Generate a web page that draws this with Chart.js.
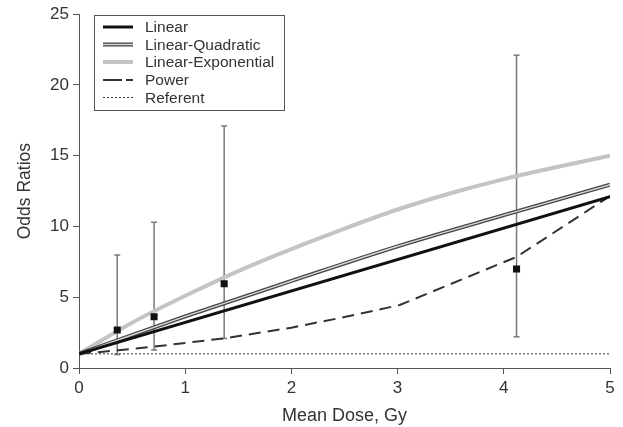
<!DOCTYPE html>
<html>
<head>
<meta charset="utf-8">
<script src="https://cdn.jsdelivr.net/npm/chart.js@4/dist/chart.umd.min.js"></script>
<style>
html,body{margin:0;padding:0;background:#fff;}
#wrap{width:623px;height:427px;}
</style>
</head>
<body>
<div id="wrap"><canvas id="c" width="623" height="427"></canvas></div>
<script>
// ---- data ----
const xTicks = [0, 1, 2, 3, 4, 5];
const yTicks = [0, 5, 10, 15, 20, 25];

const linearDose = [0, 5];
const linearOR   = [1, 12.1];

const lqDose = [0, 1, 2, 3, 4, 5];
const lqOR   = [1, 3.65, 6.15, 8.6, 10.8, 12.95];

const leDose = [0, 0.5, 1, 1.5, 2, 2.5, 3, 3.5, 4, 4.5, 5];
const leOR   = [1, 3.2, 5.1, 6.85, 8.4, 9.85, 11.2, 12.35, 13.35, 14.2, 15.0];

const powerDose = [0, 0.37, 0.7, 1.37, 2, 2.5, 3.02, 4.12, 5];
const powerOR   = [1, 1.25, 1.5, 2.1, 2.85, 3.6, 4.45, 7.85, 12.15];

const refDose = [0, 5];
const refOR   = [1, 1];

const obsDose  = [0.36, 0.707, 1.367, 4.12];
const obsOR    = [2.68, 3.62, 5.95, 6.99];
const obsLower = [0.96, 1.27, 2.09, 2.21];
const obsUpper = [7.98, 10.3, 17.1, 22.1];

const legendLabels = ['Linear', 'Linear-Quadratic', 'Linear-Exponential', 'Power', 'Referent'];

// ---- helpers ----
const pts = (xs, ys) => xs.map((x, i) => ({x: x, y: ys[i]}));
const FONT = "'Liberation Sans', Arial, Helvetica, sans-serif";
const AXIS = '#555';
const TEXT = '#333';

const errorBars = {
  id: 'errorBars',
  beforeDatasetsDraw(chart) {
    const {ctx, scales: {x, y}} = chart;
    ctx.save();
    ctx.strokeStyle = '#7a7a7a';
    ctx.lineWidth = 1.5;
    obsDose.forEach((d, i) => {
      const px = x.getPixelForValue(d);
      const y0 = y.getPixelForValue(obsLower[i]);
      const y1 = y.getPixelForValue(obsUpper[i]);
      ctx.beginPath();
      ctx.moveTo(px, y0); ctx.lineTo(px, y1);
      ctx.moveTo(px - 3, y0); ctx.lineTo(px + 3, y0);
      ctx.moveTo(px - 3, y1); ctx.lineTo(px + 3, y1);
      ctx.stroke();
    });
    ctx.restore();
  }
};

const boxLegend = {
  id: 'boxLegend',
  afterDraw(chart) {
    const ctx = chart.ctx;
    ctx.save();
    ctx.strokeStyle = AXIS;
    ctx.lineWidth = 1;
    ctx.strokeRect(94.5, 15.5, 190, 95);
    const rows = [27, 44.5, 62, 80, 97.5];
    const x0 = 103, x1 = 133;
    const line = (y, color, w, dash) => {
      ctx.beginPath();
      ctx.setLineDash(dash || []);
      ctx.strokeStyle = color; ctx.lineWidth = w;
      ctx.moveTo(x0, y); ctx.lineTo(x1, y); ctx.stroke();
      ctx.setLineDash([]);
    };
    line(rows[0], '#111', 3);
    line(rows[1], '#444', 4); line(rows[1], '#d8d8d8', 1.4);
    line(rows[2], '#c4c4c4', 4);
    ctx.beginPath(); ctx.strokeStyle = '#333'; ctx.lineWidth = 2;
    ctx.moveTo(103, rows[3]); ctx.lineTo(122, rows[3]);
    ctx.moveTo(126, rows[3]); ctx.lineTo(133, rows[3]); ctx.stroke();
    line(rows[4], '#333', 1, [2, 2]);
    ctx.fillStyle = TEXT;
    ctx.font = '15.5px ' + FONT;
    ctx.textBaseline = 'middle';
    ctx.textAlign = 'left';
    legendLabels.forEach((t, i) => ctx.fillText(t, 145, rows[i] + 1));
    ctx.restore();
  }
};

const lineDs = (label, xs, ys, color, width, dash, smooth) => ({
  label, data: pts(xs, ys), showLine: true, pointRadius: 0, pointHoverRadius: 0,
  borderColor: color, borderWidth: width, borderDash: dash || [], fill: false,
  tension: smooth ? 0.4 : 0, cubicInterpolationMode: smooth ? 'monotone' : 'default',
  borderCapStyle: 'butt'
});

new Chart(document.getElementById('c'), {
  type: 'scatter',
  data: {
    datasets: [
      { label: 'Observed', data: pts(obsDose, obsOR), pointStyle: 'rect', pointRadius: 5,
        backgroundColor: '#111', borderColor: '#111', borderWidth: 0, showLine: false },
      lineDs('Linear', linearDose, linearOR, '#111', 3),
      lineDs('LQ-inner', lqDose, lqOR, '#d8d8d8', 1.4, null, true),
      lineDs('Linear-Quadratic', lqDose, lqOR, '#444', 4, null, true),
      lineDs('Power', powerDose, powerOR, '#333', 2, [12, 7]),
      lineDs('Linear-Exponential', leDose, leOR, '#c4c4c4', 4, null, true),
      lineDs('Referent', refDose, refOR, '#333', 1, [2, 2])
    ]
  },
  options: {
    responsive: false,
    animation: false,
    events: [],
    layout: { padding: { top: 14, right: 13, left: 0, bottom: 0 } },
    plugins: { legend: { display: false }, tooltip: { enabled: false } },
    scales: {
      x: {
        type: 'linear', min: 0, max: 5,
        afterBuildTicks: s => { s.ticks = xTicks.map(v => ({value: v})); },
        afterFit: s => { s.height = 59; },
        ticks: { color: TEXT, font: { family: FONT, size: 17 }, padding: 4 },
        grid: { drawOnChartArea: false, drawTicks: true, tickLength: 6, color: AXIS, lineWidth: 1 },
        border: { display: true, color: AXIS, width: 1 },
        title: { display: true, text: 'Mean Dose, Gy', color: TEXT,
                 font: { family: FONT, size: 18 }, padding: { top: 0, bottom: 0 } }
      },
      y: {
        type: 'linear', min: 0, max: 25,
        afterBuildTicks: s => { s.ticks = yTicks.map(v => ({value: v})); },
        afterFit: s => { s.width = 79; },
        ticks: { color: TEXT, font: { family: FONT, size: 17 }, padding: 4 },
        grid: { drawOnChartArea: false, drawTicks: true, tickLength: 6, color: AXIS, lineWidth: 1 },
        border: { display: true, color: AXIS, width: 1 },
        title: { display: true, text: 'Odds Ratios', color: TEXT,
                 font: { family: FONT, size: 17.5 }, padding: { top: 15, bottom: 0 } }
      }
    }
  },
  plugins: [errorBars, boxLegend]
});
</script>
</body>
</html>
